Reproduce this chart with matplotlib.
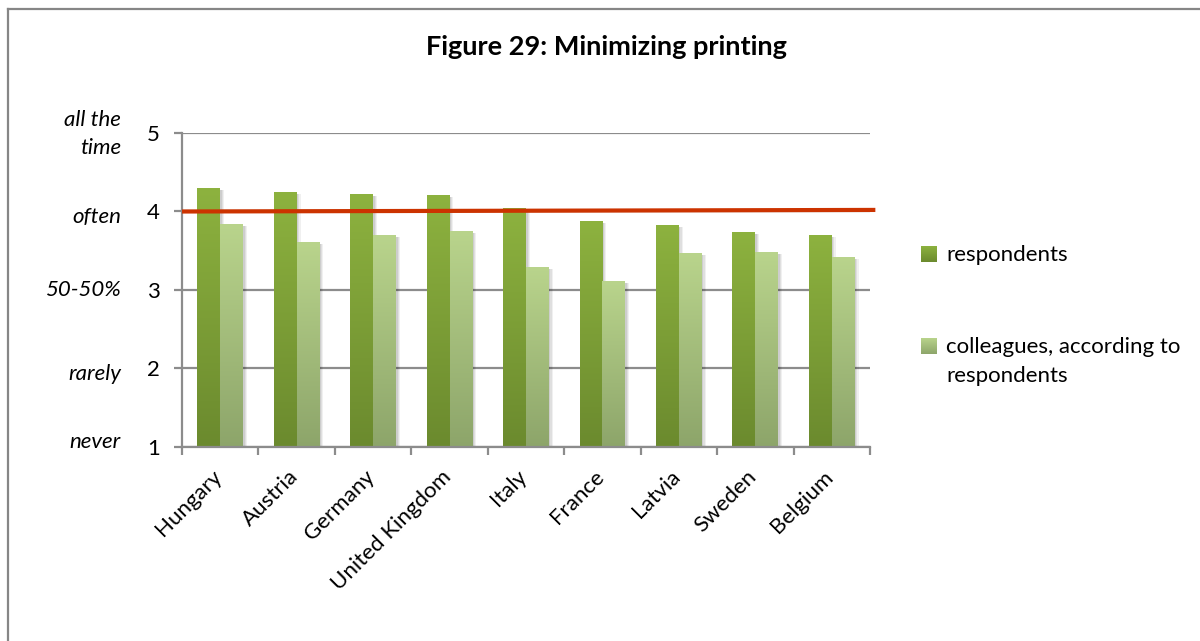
import matplotlib
matplotlib.use("Agg")
import matplotlib.pyplot as plt
import numpy as np
from matplotlib.colors import LinearSegmentedColormap
from matplotlib.patches import Rectangle
from matplotlib.transforms import ScaledTranslation

# survey averages, 1 = never ... 5 = all the time
countries = ["Hungary", "Austria", "Germany", "United Kingdom", "Italy",
             "France", "Latvia", "Sweden", "Belgium"]
respondents = [4.29, 4.24, 4.22, 4.20, 4.04, 3.87, 3.82, 3.73, 3.69]
colleagues = [3.84, 3.60, 3.70, 3.74, 3.29, 3.11, 3.46, 3.48, 3.41]
ref_line = [4.00, 4.02]
scale_labels = ["never", "rarely", "50-50%", "often", "all the\ntime"]

plt.rcParams['font.family'] = ['Lato', 'DejaVu Sans']

fig = plt.figure(figsize=(12, 6.41), dpi=100)
ax = fig.add_axes([0.1517, 0.3027, 0.5733, 0.4898])

dark = LinearSegmentedColormap.from_list("dark", ["#6b8a2e", "#8db23f"])
light = LinearSegmentedColormap.from_list("light", ["#8da56a", "#b9d48c"])

x = np.arange(len(countries))
w = 0.30
b1 = ax.bar(x - w / 2, np.array(respondents) - 1, w, bottom=1, color="none",
            label="respondents")
b2 = ax.bar(x + w / 2, np.array(colleagues) - 1, w, bottom=1, color="none",
            label="colleagues, according to\nrespondents")

grad = np.linspace(0, 1, 256).reshape(-1, 1)
for bars, cm in ((b1, dark), (b2, light)):
    for p in bars:
        x0, y0 = p.get_x(), p.get_y()
        pw, ph = p.get_width(), p.get_height()
        # soft drop shadow
        for k, a in ((0.05, 0.06), (0.035, 0.07), (0.02, 0.08)):
            ax.add_patch(Rectangle((x0 + k, y0 - 0.02), pw, ph, color="k",
                                   alpha=a, lw=0, zorder=1.5))
        ax.imshow(grad, cmap=cm, origin="lower", aspect="auto",
                  extent=(x0, x0 + pw, y0, y0 + ph), zorder=2)

ax.set_xlim(-0.5, len(countries) - 0.5)
ax.set_ylim(1, 5)

ax.plot([-0.5, len(countries) - 0.43], ref_line, color="#cc3300", lw=3,
        solid_capstyle="butt", zorder=4, clip_on=False)

gcol = "#8c8c8c"
ax.set_yticks([1, 2, 3, 4, 5])
ax.yaxis.grid(True, color=gcol, lw=1.6)
ax.set_axisbelow(True)
for s in ("top", "right"):
    ax.spines[s].set_visible(False)
for s in ("left", "bottom"):
    ax.spines[s].set_color(gcol)
    ax.spines[s].set_linewidth(1.6)
ax.tick_params(axis="y", length=6, width=1.6, color=gcol, labelsize=16, pad=10)
ax.set_xticks(np.arange(-0.5, len(countries), 1.0), minor=False)
ax.set_xticklabels([])
ax.set_xticks(x, minor=True)
ax.set_xticklabels(countries, minor=True, rotation=45, ha="right",
                   rotation_mode="anchor", fontsize=16)
ax.tick_params(axis="x", which="major", length=6, width=1.6, color=gcol)
ax.tick_params(axis="x", which="minor", length=0, pad=14)
shift = ScaledTranslation(-0.09, 0, fig.dpi_scale_trans)
for t in ax.get_xticklabels(minor=True):
    t.set_transform(t.get_transform() + shift)

# verbal scale beside the numeric ticks
for lab, yy in zip(scale_labels, [442, 374, 290, 217, 134]):
    fig.text(121 / 1200, 1 - yy / 641, lab, ha="right", va="center",
             fontsize=16, style="italic", linespacing=1.55)

fig.text(606 / 1200, 1 - 47 / 641, "Figure 29: Minimizing printing",
         ha="center", va="center", fontsize=19.5, fontweight="bold")

# legend with gradient swatches
for cm, yy, lab in ((dark, 254, "respondents"),
                    (light, 346, "colleagues, according to\nrespondents")):
    sw = fig.add_axes([921 / 1200, 1 - (yy + 8) / 641, 16 / 1200, 16 / 641])
    sw.imshow(grad, cmap=cm, origin="lower", aspect="auto")
    sw.axis("off")
    fig.text(946 / 1200, 1 - (yy - 9) / 641, lab, ha="left", va="top",
             fontsize=16, linespacing=1.55)

# outer chart frame
fig.add_artist(plt.Line2D([7.5 / 1200, 7.5 / 1200], [0, 1 - 8.5 / 641],
                          color="#868686", lw=1.6))
fig.add_artist(plt.Line2D([7.5 / 1200, 1], [1 - 8.5 / 641, 1 - 8.5 / 641],
                          color="#868686", lw=1.6))

fig.savefig("out.png", dpi=100)
